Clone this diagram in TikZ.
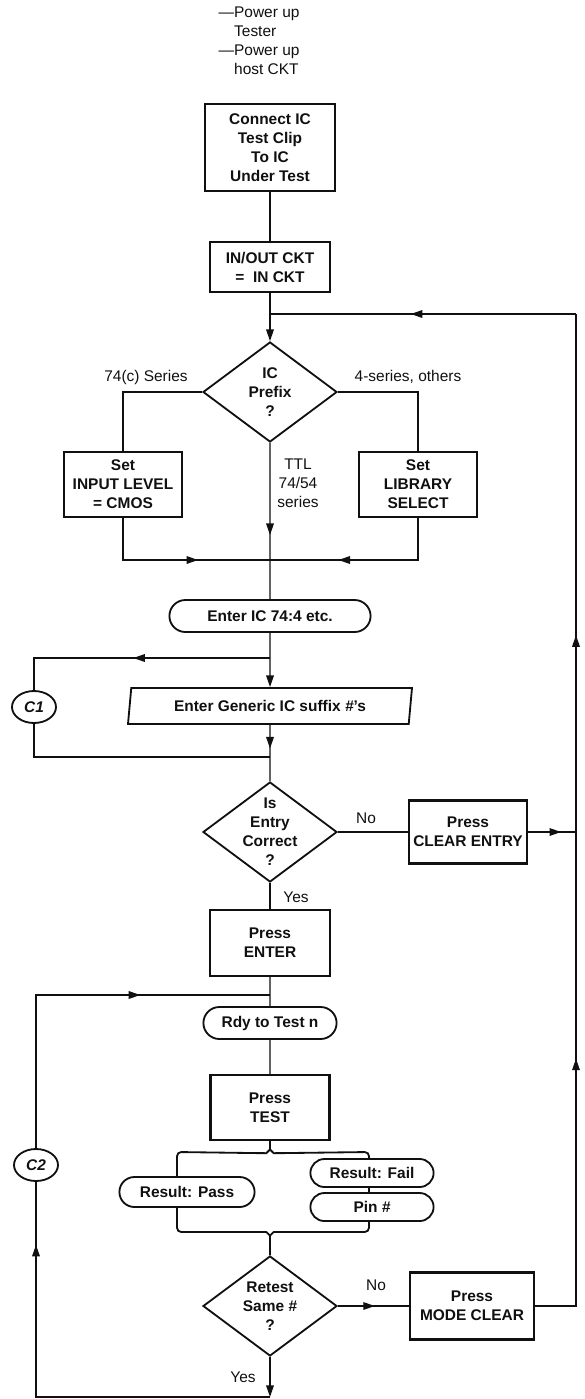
\documentclass[tikz,border=0pt]{standalone}
\usepackage{fontspec}
\setmainfont{Liberation Sans}
\usetikzlibrary{arrows.meta,shapes.geometric,shapes.misc,decorations.markings}
\definecolor{ink}{HTML}{101010}
\newcommand{\figfont}{\fontsize{11}{13.5}\selectfont}

\begin{document}
\begin{tikzpicture}[
  color=ink,
  line width=1pt,
  >={Triangle[length=2.9mm,width=1.9mm]},
  font=\figfont,
  arrow/.style={->},
  midarrow/.style={postaction={decorate},decoration={markings,
    mark=at position #1 with {\arrow{>}}}},
  box/.style={draw,line width=1.5pt,fill=white,align=center,
    font=\figfont\bfseries,inner sep=1pt},
  decision/.style={diamond,draw,line width=1.3pt,align=center,
    font=\figfont\bfseries,minimum width=3.35cm,minimum height=2.5cm,
    shape aspect=1.34,inner sep=-5pt},
  pill/.style={rounded rectangle,draw,line width=1.3pt,fill=white,
    font=\figfont\bfseries,inner sep=1pt},
  io/.style={trapezium,trapezium left angle=77,trapezium right angle=103,
    trapezium stretches body,draw,line width=1.3pt,
    font=\figfont\bfseries,inner sep=1pt},
  conn/.style={ellipse,draw,line width=1.3pt,minimum width=1.1cm,
    minimum height=.8cm,inner sep=0pt,font=\figfont\bfseries\itshape},
  note/.style={align=center,inner sep=1pt}
]
  \useasboundingbox (0,0) rectangle (14.6,-34.975);

  \node[note,align=left,anchor=north west,inner sep=0pt] (power) at (5.45,-.15)
    {—Power up\\\phantom{—}Tester\\—Power up\\\phantom{—}host CKT};

  \node[box,minimum width=3.25cm,minimum height=2.175cm] (connect) at (6.75,-3.69)
    {Connect IC\\Test Clip\\To IC\\Under Test};
  \node[box,minimum width=3cm,minimum height=1.25cm] (inout) at (6.75,-6.675)
    {IN/OUT CKT\\=\ \ IN CKT};
  \coordinate (jtop) at (6.75,-7.85);
  \coordinate (rtop) at (14.4,-7.85);

  \node[decision] (prefix) at (6.75,-9.8) {IC\\Prefix\\?};
  \node[note] (lseries) at (3.65,-9.425) {74(c) Series};
  \node[note] (lothers) at (10.2,-9.425) {4-series, others};
  \node[note] (lttl) at (7.45,-12.075) {TTL\\74/54\\series};
  \node[box,minimum width=2.95cm,minimum height=1.625cm] (setcmos) at (3.075,-12.11)
    {Set\\INPUT LEVEL\\= CMOS};
  \node[box,minimum width=2.95cm,minimum height=1.625cm] (setlib) at (10.45,-12.11)
    {Set\\LIBRARY\\SELECT};
  \coordinate (jlow) at (6.75,-14);

  \node[pill,minimum width=5.1cm,minimum height=.8cm] (enteric) at (6.75,-15.4)
    {Enter IC 74:4 etc.};
  \coordinate (jc1top) at (6.75,-16.45);
  \node[io,minimum width=7.1cm,minimum height=.9cm] (generic) at (6.75,-17.65)
    {Enter Generic IC suffix \textit{\#}'s};
  \node[conn] (c1) at (.85,-17.675) {C1};
  \coordinate (jc1bot) at (6.75,-18.925);

  \node[decision] (entry) at (6.75,-20.8) {Is\\Entry\\Correct\\?};
  \node[note] (lno1) at (9.15,-20.45) {No};
  \node[box,minimum width=2.95cm,minimum height=1.575cm] (clear) at (11.7,-20.8)
    {Press\\CLEAR ENTRY};
  \coordinate (rmid) at (14.4,-20.8);
  \node[note] (lyes1) at (7.4,-22.425) {Yes};
  \node[box,minimum width=3cm,minimum height=1.65cm] (enter) at (6.75,-23.575)
    {Press\\ENTER};
  \coordinate (jc2top) at (6.75,-24.875);
  \node[pill,minimum width=3.4cm,minimum height=.8cm] (rdy) at (6.75,-25.575)
    {Rdy to Test n};
  \node[box,minimum width=2.975cm,minimum height=1.625cm] (test) at (6.75,-27.69)
    {Press\\TEST};

  \node[conn] (c2) at (.9,-29.125) {C2};
  \node[decision] (retest) at (6.75,-32.65) {Retest\\Same \textit{\#}\\?};
  \node[note] (lno2) at (9.4,-32.125) {No};
  \node[box,minimum width=3.1cm,minimum height=1.675cm] (modeclear) at (11.8,-32.65)
    {Press\\MODE CLEAR};
  \node[note] (lyes2) at (6.075,-34.425) {Yes};
  \coordinate (jbot) at (6.75,-34.925);

  \draw (connect) -- (inout);
  \draw (inout) -- (jtop);
  \draw[arrow] (jtop) -- (prefix);
  \draw (prefix.west) -| (setcmos);
  \draw (prefix.east) -| (setlib);
  \draw[midarrow=.59] (prefix) -- (enteric);
  \draw[midarrow=.62] (setcmos) |- (jlow);
  \draw[midarrow=.64] (setlib) |- (jlow);
  \draw[arrow] (enteric) -- (generic);
  \draw[midarrow=.51] (jc1top) -| (c1);
  \draw (c1) |- (jc1bot);
  \draw[midarrow=.42] (generic) -- (entry);
  \draw (entry) -- (clear);
  \draw[midarrow=.69] (clear) -- (rmid);
  \draw[midarrow=.38] (rmid) -- (rtop);
  \draw[midarrow=.54] (rtop) -- (jtop);
  \draw (entry) -- (enter);
  \draw (enter) -- (rdy);
  \draw (rdy) -- (test);

  \draw[rounded corners=3pt,line width=1.3pt] (test.south) -- ++(0,-.1)
    arc[start angle=0,end angle=-90,radius=.2] -- (4.425,-28.8)
    -- (4.425,-30.8) -- (6.55,-30.8)
    arc[start angle=90,end angle=0,radius=.2] -- (retest.north);
  \draw[rounded corners=3pt,line width=1.3pt] (test.south) -- ++(0,-.1)
    arc[start angle=180,end angle=270,radius=.2] -- (9.225,-28.8)
    -- (9.225,-30.8) -- (6.95,-30.8)
    arc[start angle=90,end angle=180,radius=.2] -- (retest.north);
  \node[pill,minimum width=3.45cm,minimum height=.75cm] (pass) at (4.675,-29.8)
    {Result: Pass};
  \node[pill,minimum width=3.15cm,minimum height=.7cm] (fail) at (9.3,-29.325)
    {Result: Fail};
  \node[pill,minimum width=3.15cm,minimum height=.7cm] (pin) at (9.3,-30.175)
    {Pin \textit{\#}};

  \draw[midarrow=.52] (retest) -- (modeclear);
  \draw[midarrow=.56] (modeclear) -| (rmid);
  \draw[arrow] (retest) -- (jbot);
  \draw[midarrow=.86] (jbot) -| (c2);
  \draw[midarrow=.665] (c2) |- (jc2top);
\end{tikzpicture}
\end{document}
